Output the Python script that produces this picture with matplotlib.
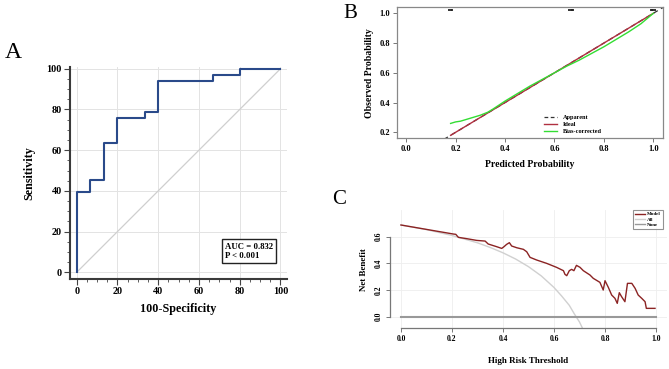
import matplotlib
matplotlib.use("Agg")
import matplotlib.pyplot as plt
from matplotlib.ticker import MultipleLocator
from matplotlib.lines import Line2D

plt.rcParams['font.family'] = ['Liberation Serif', 'DejaVu Serif']

# ---------------- data ----------------
# Panel A: ROC (step curve)
roc_fpr = [0, 0, 6.7, 6.7, 13.3, 13.3, 20, 20, 33.3, 33.3, 40, 40, 66.7, 66.7, 80, 80, 100]
roc_tpr = [0, 39.4, 39.4, 45.5, 45.5, 63.6, 63.6, 75.8, 75.8, 78.8, 78.8, 93.9, 93.9, 97.0, 97.0, 100, 100]
roc_ticks = [0, 20, 40, 60, 80, 100]
auc_text = "AUC = 0.832\nP < 0.001"

# Panel B: calibration
ideal_x = [0.18, 1.0]
bias_x = [0.18, 0.20, 0.22, 0.25, 0.27, 0.30, 0.33, 0.35, 0.40, 0.45, 0.50, 0.55, 0.60,
          0.65, 0.70, 0.75, 0.80, 0.85, 0.90, 0.95, 1.00]
bias_y = [0.26, 0.27, 0.275, 0.29, 0.30, 0.315, 0.335, 0.355, 0.41, 0.46, 0.51, 0.555, 0.60,
          0.645, 0.685, 0.73, 0.775, 0.825, 0.875, 0.93, 1.00]
rug_x = [0.175, 0.18, 0.185, 0.66, 0.665, 0.67, 0.675, 0.99, 0.995, 1.0, 1.005]
cal_ticks_x = [0.0, 0.2, 0.4, 0.6, 0.8, 1.0]
cal_ticks_y = [0.2, 0.4, 0.6, 0.8, 1.0]

# Panel C: decision curve
model_t = [0.0, 0.205, 0.215, 0.225, 0.258, 0.297, 0.33, 0.342, 0.375, 0.395, 0.404, 0.414,
           0.425, 0.434, 0.454, 0.48, 0.493, 0.506, 0.532, 0.571, 0.61, 0.637, 0.643, 0.65,
           0.66, 0.669, 0.678, 0.688, 0.702, 0.715, 0.741, 0.754, 0.78, 0.793, 0.80, 0.813,
           0.826, 0.839, 0.848, 0.856, 0.865, 0.878, 0.888, 0.905, 0.918, 0.93, 0.944, 0.957,
           0.962, 0.996]
model_nb = [0.6875, 0.62, 0.6175, 0.595, 0.585, 0.572, 0.567, 0.545, 0.525, 0.512, 0.525, 0.542,
            0.555, 0.53, 0.517, 0.505, 0.487, 0.445, 0.425, 0.40, 0.37, 0.345, 0.3175, 0.3075,
            0.345, 0.355, 0.345, 0.385, 0.37, 0.345, 0.3125, 0.2875, 0.2575, 0.20, 0.27, 0.22,
            0.1625, 0.1375, 0.10, 0.18, 0.15, 0.1125, 0.25, 0.25, 0.2125, 0.1625, 0.1375, 0.1125,
            0.0625, 0.0625]
all_t = [0.0, 0.1, 0.2, 0.3, 0.35, 0.4, 0.45, 0.5, 0.55, 0.6, 0.63, 0.66, 0.68, 0.70, 0.72]
all_nb = [0.6875, 0.653, 0.609, 0.554, 0.519, 0.479, 0.432, 0.375, 0.306, 0.219, 0.155, 0.085,
          0.02, -0.04, -0.12]
none_t = [0.0, 1.0]
none_nb = [0.0, 0.0]
dca_ticks_x = [0.0, 0.2, 0.4, 0.6, 0.8, 1.0]
dca_ticks_y = [0.0, 0.2, 0.4, 0.6]

# ---------------- figure ----------------
W, H = 669, 369
fig = plt.figure(figsize=(W / 100, H / 100), dpi=100)


def px_axes(l, t, r, b):
    return fig.add_axes([l / W, 1 - b / H, (r - l) / W, (b - t) / H])


# ===== Panel A =====
axA = px_axes(70, 66.7, 287, 279)
axA.plot([0, 100], [0, 100], color='#cfcfcf', lw=0.9, zorder=1)
axA.plot(roc_fpr, roc_tpr, color='#2a4a8a', lw=1.5, zorder=3)
axA.set_xlim(-3.3, 103.2)
axA.set_ylim(-3.3, 101)
axA.set_xticks(roc_ticks)
axA.set_yticks(roc_ticks)
axA.xaxis.set_minor_locator(MultipleLocator(5))
axA.yaxis.set_minor_locator(MultipleLocator(5))
axA.grid(True, which='major', color='#e3e3e3', lw=0.7)
axA.set_axisbelow(True)
for s in ['top', 'right']:
    axA.spines[s].set_visible(False)
for s in ['left', 'bottom']:
    axA.spines[s].set_color('#3a3a3a')
    axA.spines[s].set_linewidth(1.5)
axA.tick_params(which='major', length=4, width=0.8, color='#444444', labelsize=7.3, pad=2)
axA.tick_params(which='minor', length=2.5, width=0.6, color='#444444')
for lab in axA.get_xticklabels() + axA.get_yticklabels():
    lab.set_fontweight('bold')
axA.set_xlabel('100-Specificity', fontsize=8.7, fontweight='bold', labelpad=5)
axA.set_ylabel('Sensitivity', fontsize=8.7, fontweight='bold', labelpad=8)
axA.text(0.715, 0.13, auc_text, transform=axA.transAxes, ha='left', va='center',
         multialignment='left', fontsize=6.3, fontweight='bold', linespacing=1.3,
         bbox=dict(boxstyle='square,pad=0.35', fc='white', ec='#222222', lw=1.0))
fig.text(5 / W, 1 - 53 / H, 'A', fontsize=17, ha='left', va='center')

# ===== Panel B =====
axB = px_axes(396.7, 7.3, 663.3, 138.3)
axB.set_xlim(-0.038, 1.04)
axB.set_ylim(0.16, 1.04)
axB.plot([0.0, 1.04], [0.0, 1.04], color='#333333', lw=0.9, ls=(0, (4, 3)), zorder=2)
axB.plot(ideal_x, ideal_x, color='#b03040', lw=1.0, zorder=3)
axB.plot(bias_x, bias_y, color='#33dd33', lw=1.0, zorder=4)
axB.vlines(rug_x, 1.013, 1.03, color='#222222', lw=1.3)
axB.set_xticks(cal_ticks_x)
axB.set_yticks(cal_ticks_y)
for s in axB.spines.values():
    s.set_color('#888888')
    s.set_linewidth(0.9)
axB.tick_params(length=3, width=0.7, color='#777777', labelsize=6, pad=2)
axB.set_xticklabels(['%.1f' % v for v in cal_ticks_x], fontweight='bold')
axB.set_yticklabels(['%.1f' % v for v in cal_ticks_y], fontweight='bold')
axB.set_xlabel('Predicted Probability', fontsize=7, fontweight='bold', labelpad=5)
axB.set_ylabel('Observed Probability', fontsize=7, fontweight='bold', labelpad=4)
handlesB = [Line2D([], [], color='#333333', lw=0.9, ls=(0, (3, 2))),
            Line2D([], [], color='#b03040', lw=1.0),
            Line2D([], [], color='#33dd33', lw=1.0)]
axB.legend(handlesB, ['Apparent', 'Ideal', 'Bias-corrected'], loc='lower left',
           bbox_to_anchor=(0.535, 0.0), frameon=False, prop=dict(size=4.5, weight='bold'),
           handlelength=2.2, handletextpad=0.8, labelspacing=0.25, borderaxespad=0.3)
fig.text(343 / W, 1 - 13 / H, 'B', fontsize=15, ha='left', va='center')

# ===== Panel C =====
axC = px_axes(390, 210, 667, 328.3)
axC.set_xlim(-0.043, 1.043)
axC.set_ylim(-0.087, 0.80)
axC.plot(all_t, all_nb, color='#d0d0d0', lw=1.0, zorder=2)
axC.plot(none_t, none_nb, color='#999999', lw=1.5, zorder=3)
axC.plot(model_t, model_nb, color='#8b2323', lw=1.0, zorder=4)
axC.set_xticks(dca_ticks_x)
axC.set_yticks(dca_ticks_y)
axC.grid(True, color='#eeeeee', lw=0.6)
axC.set_axisbelow(True)
for s in ['top', 'right']:
    axC.spines[s].set_visible(False)
axC.spines['left'].set_bounds(0.0, 0.6)
axC.spines['bottom'].set_bounds(0.0, 1.0)
for s in ['left', 'bottom']:
    axC.spines[s].set_color('#777777')
    axC.spines[s].set_linewidth(0.9)
axC.tick_params(length=3, width=0.7, color='#777777', labelsize=5.5, pad=2)
axC.set_xticklabels(['%.1f' % v for v in dca_ticks_x], fontweight='bold')
axC.set_yticklabels(['%.1f' % v for v in dca_ticks_y], fontweight='bold',
                    rotation=90, va='center')
axC.set_xlabel('High Risk Threshold', fontsize=6.5, fontweight='bold', labelpad=10)
axC.set_ylabel('Net Benefit', fontsize=6.5, fontweight='bold', labelpad=5)
handlesC = [Line2D([], [], color='#8b2323', lw=1.0),
            Line2D([], [], color='#d0d0d0', lw=1.0),
            Line2D([], [], color='#999999', lw=1.0)]
legC = axC.legend(handlesC, ['Model', 'All', 'None'], loc='upper right',
                  bbox_to_anchor=(0.985, 1.0), frameon=True, fancybox=False,
                  prop=dict(size=3.6, weight='bold'), handlelength=2.0,
                  handletextpad=0.5, labelspacing=0.15, borderpad=0.4, borderaxespad=0.0)
legC.get_frame().set_edgecolor('#777777')
legC.get_frame().set_linewidth(0.8)
fig.text(332 / W, 1 - 200 / H, 'C', fontsize=15, ha='left', va='center')

fig.savefig('out.png', dpi=100)
